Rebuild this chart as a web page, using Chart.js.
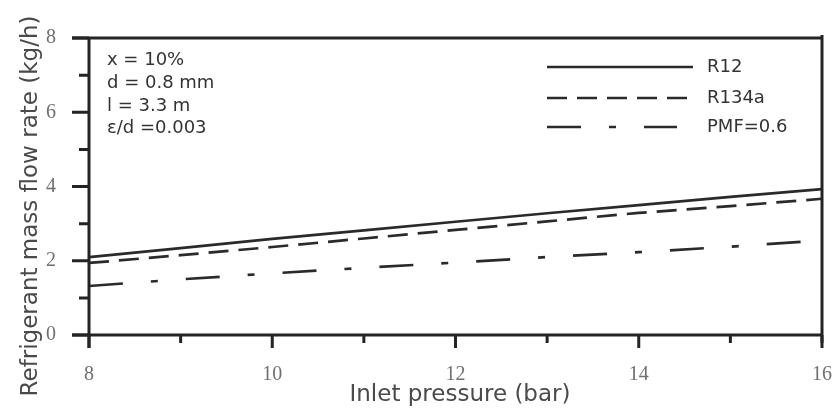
<!DOCTYPE html>
<html>
<head>
<meta charset="utf-8">
<script src="https://cdn.jsdelivr.net/npm/chart.js@4"></script>
<style>
  html, body { margin: 0; padding: 0; background: #fff; }
  canvas { display: block; }
</style>
</head>
<body>
<canvas id="chart" width="832" height="413"></canvas>
<script>
// Inlet pressure (bar)
const pressure = [8, 9, 10, 11, 12, 13, 14, 15, 16];
// Refrigerant mass flow rate (kg/h)
const flowR12   = [2.10, 2.34, 2.59, 2.82, 3.05, 3.28, 3.50, 3.72, 3.93];
const flowR134a = [1.94, 2.15, 2.37, 2.60, 2.83, 3.06, 3.29, 3.47, 3.67];
const flowPMF   = [1.32, 1.50, 1.66, 1.81, 1.95, 2.10, 2.23, 2.38, 2.55];

const seriesNames = ['R12', 'R134a', 'PMF=0.6'];
const xTickValues = [8, 10, 12, 14, 16];
const yTickValues = [0, 2, 4, 6, 8];
const conditions = ['x = 10%', 'd = 0.8 mm', 'l = 3.3 m', '\u03b5/d =0.003'];

const xTitle = 'Inlet pressure (bar)';
const yTitle = 'Refrigerant mass flow rate (kg/h)';

const toPoints = (ys) => pressure.map((p, i) => ({ x: p, y: ys[i] }));

const LINE = '#2a2a2a';
const AXIS = '#242424';
const SANS = '"DejaVu Sans", sans-serif';
const SERIF = '"Liberation Serif", "DejaVu Serif", serif';

// Keep the plot area fixed: drop the extra edge room the scales ask for
const fixScale = (size) => (s) => {
  if (s.isHorizontal()) s.height = size; else s.width = size;
  s.paddingTop = s.paddingBottom = s.paddingLeft = s.paddingRight = 0;
};

// Frame, outward major/minor ticks, condition notes, legend and axis titles
const decorations = {
  id: 'decorations',
  afterDraw(chart) {
    const { ctx, chartArea: a, scales: { x, y } } = chart;
    ctx.save();
    ctx.strokeStyle = AXIS;
    ctx.lineCap = 'butt';
    ctx.lineWidth = 3;
    ctx.beginPath();
    ctx.moveTo(a.left - 17, a.top); ctx.lineTo(a.right, a.top);
    ctx.moveTo(a.left - 17, a.bottom); ctx.lineTo(a.right, a.bottom);
    ctx.moveTo(a.left, a.top - 1); ctx.lineTo(a.left, a.bottom + 13);
    ctx.moveTo(a.right, a.top - 3); ctx.lineTo(a.right, a.bottom + 8);
    ctx.stroke();

    ctx.beginPath();
    for (let v = y.min; v <= y.max; v++) {
      const py = y.getPixelForValue(v);
      const len = v % 2 === 0 ? 17 : 10;
      ctx.moveTo(a.left - len, py); ctx.lineTo(a.left, py);
    }
    for (let v = x.min; v <= x.max; v++) {
      const px = x.getPixelForValue(v);
      const len = v % 2 === 0 ? 13 : 8;
      ctx.moveTo(px, a.bottom); ctx.lineTo(px, a.bottom + len);
    }
    ctx.stroke();

    // condition notes
    ctx.fillStyle = '#333';
    ctx.font = '18px ' + SANS;
    ctx.textAlign = 'left';
    ctx.textBaseline = 'middle';
    const noteY = [60, 83, 106, 128];
    conditions.forEach((t, i) => ctx.fillText(t, 107, noteY[i]));

    // legend
    const legY = [67, 98, 127];
    const legEnd = [693, 693, 677];
    chart.data.datasets.forEach((ds, i) => {
      ctx.strokeStyle = ds.borderColor;
      ctx.lineWidth = 2.6;
      ctx.setLineDash(ds.borderDash || []);
      ctx.beginPath();
      ctx.moveTo(547, legY[i]);
      ctx.lineTo(legEnd[i], legY[i]);
      ctx.stroke();
      ctx.setLineDash([]);
      ctx.fillStyle = '#333';
      ctx.fillText(ds.label, 707, legY[i]);
    });

    // axis titles
    ctx.fillStyle = '#4a4a4a';
    ctx.font = '23px ' + SANS;
    ctx.textAlign = 'center';
    ctx.textBaseline = 'alphabetic';
    ctx.fillText(xTitle, 460, 401);
    ctx.translate(37, 206);
    ctx.rotate(-Math.PI / 2);
    ctx.fillText(yTitle, 0, 0);
    ctx.restore();
  }
};

new Chart(document.getElementById('chart'), {
  type: 'line',
  data: {
    datasets: [
      { label: seriesNames[0], data: toPoints(flowR12), borderColor: LINE, borderWidth: 2.7, borderDash: [] },
      { label: seriesNames[1], data: toPoints(flowR134a), borderColor: LINE, borderWidth: 2.7, borderDash: [20, 10] },
      { label: seriesNames[2], data: toPoints(flowPMF), borderColor: LINE, borderWidth: 2.7, borderDash: [34, 28, 7, 28] }
    ]
  },
  options: {
    responsive: false,
    devicePixelRatio: 1,
    animation: false,
    events: [],
    layout: { padding: { top: 38, right: 10, left: 0, bottom: 0 } },
    elements: { point: { radius: 0 }, line: { tension: 0, fill: false } },
    plugins: { legend: { display: false }, tooltip: { enabled: false }, title: { display: false } },
    scales: {
      x: {
        type: 'linear', min: 8, max: 16,
        afterFit: fixScale(78),
        afterBuildTicks: (s) => { s.ticks = xTickValues.map(v => ({ value: v })); },
        grid: { display: false, drawTicks: false, tickLength: 0 },
        border: { display: false },
        ticks: { padding: 28, autoSkip: false, maxRotation: 0, color: '#707070', font: { family: SERIF, size: 20 } }
      },
      y: {
        type: 'linear', min: 0, max: 8,
        afterFit: fixScale(89),
        afterBuildTicks: (s) => { s.ticks = yTickValues.map(v => ({ value: v })); },
        grid: { display: false, drawTicks: false, tickLength: 0 },
        border: { display: false },
        ticks: { padding: 33, autoSkip: false, color: '#707070', font: { family: SERIF, size: 20 } }
      }
    }
  },
  plugins: [decorations]
});
</script>
</body>
</html>
